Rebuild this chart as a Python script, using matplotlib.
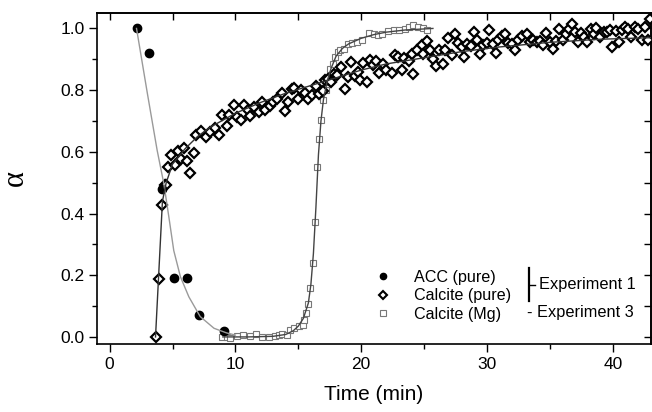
import numpy as np
import matplotlib
matplotlib.use('agg')
import matplotlib.pyplot as plt
from matplotlib.lines import Line2D
from matplotlib.ticker import MultipleLocator

plt.rcParams['font.family'] = ['Liberation Sans', 'DejaVu Sans']

# ACC (pure), experiment 1
acc_t = [2.14, 3.17, 4.2, 5.15, 6.17, 7.14, 9.1]
acc_a = [1.0, 0.92, 0.48, 0.19, 0.19, 0.07, 0.02]
acc_fit_t = [2.14, 3.0, 3.78, 4.31, 4.71, 5.1, 5.63, 6.3, 7.2, 8.3, 9.3, 10.0]
acc_fit_a = [1.0, 0.79, 0.605, 0.497, 0.389, 0.28, 0.195, 0.13, 0.066, 0.028, 0.013, 0.006]

# Calcite (pure), experiment 1
cal_t = [3.70, 3.92, 4.18, 4.44, 4.5, 4.66, 4.92, 5.16, 5.42, 5.69, 5.90, 6.19, 6.43, 6.69,
         6.90, 7.30, 7.70, 8.02, 8.41, 8.68, 8.94, 9.34, 9.47, 9.92, 10.13, 10.48, 10.66,
         10.98, 11.19, 11.45, 11.85, 12.12, 12.38, 12.78, 12.99, 13.31, 13.70, 13.97, 14.18,
         14.50, 14.68, 14.95, 15.21, 15.56, 15.74, 16.09, 16.43, 16.61, 16.96, 17.14, 17.33,
         17.60, 17.80, 18.07, 18.39, 18.73, 18.92, 19.21, 19.52, 19.74, 19.92, 20.13, 20.45,
         20.66, 20.93, 21.19, 21.45, 21.77, 21.98, 22.43, 22.70, 22.96, 23.23, 23.44, 23.76,
         24.02, 24.15, 24.47, 24.81, 24.94, 25.21, 25.48, 25.69, 25.95, 26.22, 26.48, 26.67,
         26.93, 27.20, 27.46, 27.72, 27.99, 28.20, 28.44, 28.70, 28.99, 29.18, 29.44, 29.71,
         29.98, 30.18, 30.45, 30.71, 30.90, 31.17, 31.43, 31.69, 31.96, 32.22, 32.48, 32.75,
         33.15, 33.41, 33.68, 33.94, 34.21, 34.47, 34.68, 35.0, 35.21, 35.48, 35.74, 36.0,
         36.27, 36.53, 36.72, 36.98, 37.25, 37.51, 37.70, 37.96, 38.23, 38.49, 38.70, 38.97,
         39.29, 39.55, 39.76, 39.97, 40.24, 40.50, 40.69, 40.95, 41.21, 41.48, 41.75, 42.01,
         42.28, 42.54, 42.80, 42.94]
cal_a = [0.0, 0.187, 0.427, 0.494, 0.494, 0.551, 0.591, 0.557, 0.603, 0.578, 0.611, 0.571, 0.533, 0.597,
         0.656, 0.667, 0.648, 0.664, 0.677, 0.654, 0.718, 0.683, 0.718, 0.751, 0.713, 0.704, 0.753,
         0.735, 0.715, 0.745, 0.729, 0.761, 0.735, 0.748, 0.761, 0.772, 0.791, 0.731, 0.761,
         0.805, 0.808, 0.772, 0.801, 0.791, 0.772, 0.785, 0.812, 0.786, 0.797, 0.832, 0.837,
         0.826, 0.853, 0.848, 0.875, 0.805, 0.842, 0.891, 0.845, 0.859, 0.834, 0.888, 0.826,
         0.899, 0.880, 0.893, 0.855, 0.886, 0.864, 0.855, 0.913, 0.909, 0.866, 0.905, 0.896,
         0.918, 0.851, 0.929, 0.945, 0.916, 0.959, 0.929, 0.902, 0.877, 0.931, 0.886, 0.929,
         0.970, 0.913, 0.983, 0.952, 0.940, 0.907, 0.950, 0.942, 0.989, 0.963, 0.916, 0.945,
         0.952, 0.994, 0.950, 0.920, 0.963, 0.974, 0.983, 0.952, 0.950, 0.931, 0.961, 0.974,
         0.981, 0.956, 0.961, 0.956, 0.959, 0.945, 0.985, 0.956, 0.934, 0.959, 0.998, 0.963,
         0.983, 0.998, 1.013, 0.989, 0.956, 0.985, 0.972, 0.956, 0.998, 0.981, 1.002, 0.972,
         0.989, 0.989, 0.996, 0.940, 0.992, 0.956, 0.994, 1.006, 0.998, 0.972, 1.006, 0.998,
         0.961, 1.006, 0.963, 1.031]
cal_fit_t = [3.65, 3.9, 4.2, 4.5, 5.0, 6.0, 7.0, 8.0, 10.0, 12.0, 14.0, 16.0, 18.0, 20.0,
             22.0, 25.0, 28.0, 31.0, 35.0, 39.0, 43.0]
cal_fit_a = [0.0, 0.2, 0.44, 0.50, 0.56, 0.61, 0.65, 0.68, 0.725, 0.76, 0.79, 0.815, 0.84,
             0.865, 0.885, 0.905, 0.925, 0.94, 0.955, 0.965, 0.97]

# Calcite (Mg), experiment 3
mg_t = [8.94, 9.34, 9.6, 10.13, 10.61, 11.14, 11.64, 12.12, 12.65, 13.17, 13.44, 13.7, 14.1,
        14.37, 14.68, 15.03, 15.34, 15.42, 15.64, 15.77, 15.95, 16.14, 16.3, 16.48, 16.61,
        16.8, 16.96, 17.2, 17.33, 17.49, 17.54, 17.75, 17.94, 18.12, 18.33, 18.65, 18.92,
        19.26, 19.66, 20.06, 20.58, 20.98, 21.3, 21.64, 22.09, 22.57, 23.04, 23.49, 23.83,
        24.15, 24.55, 24.9, 25.21]
mg_a = [0.001, 0.0, -0.003, 0.004, 0.006, 0.004, 0.01, 0.0, 0.0, 0.004, 0.006, 0.009, 0.006,
        0.023, 0.030, 0.037, 0.039, 0.055, 0.077, 0.106, 0.16, 0.24, 0.373, 0.551, 0.643,
        0.702, 0.767, 0.80, 0.826, 0.842, 0.87, 0.886, 0.907, 0.923, 0.929, 0.934, 0.95,
        0.952, 0.956, 0.963, 0.985, 0.983, 0.979, 0.983, 0.992, 0.994, 0.996, 0.999, 1.004,
        1.01, 1.004, 1.002, 0.996]
mg_fit_t = [9.0, 11.0, 13.0, 14.0, 14.6, 15.0, 15.4, 15.8, 16.0, 16.2, 16.4, 16.6, 16.8, 17.0,
            17.3, 17.6, 18.0, 18.5, 19.0, 20.0, 21.0, 22.0, 23.5, 25.7]
mg_fit_a = [0.0, 0.0, 0.002, 0.008, 0.02, 0.035, 0.06, 0.11, 0.17, 0.27, 0.42, 0.59, 0.70, 0.77,
            0.83, 0.87, 0.91, 0.935, 0.95, 0.968, 0.98, 0.988, 0.995, 1.0]

fig = plt.figure(figsize=(6.52, 4.12), dpi=100)
ax = fig.add_axes([0.1488, 0.165, 0.8490, 0.8034])

ax.plot(mg_t, mg_a, 's', ms=4.6, mfc='white', mec='#777777', mew=0.8, zorder=2)
ax.plot(cal_t, cal_a, 'D', ms=4.6, mfc='white', mec='black', mew=1.6, zorder=3)
ax.plot(acc_t, acc_a, 'o', ms=6, mfc='black', mec='black', zorder=4)

ax.plot(acc_fit_t, acc_fit_a, '-', color='#9a9a9a', lw=1.0, zorder=5)
ax.plot(cal_fit_t, cal_fit_a, '-', color='#333333', lw=1.0, zorder=5)
ax.plot(mg_fit_t, mg_fit_a, '-', color='#444444', lw=1.0, zorder=5)

ax.set_xlim(-1, 43)
ax.set_ylim(-0.023, 1.05)
ax.xaxis.set_major_locator(MultipleLocator(10))
ax.xaxis.set_minor_locator(MultipleLocator(5))
ax.yaxis.set_major_locator(MultipleLocator(0.2))
ax.yaxis.set_minor_locator(MultipleLocator(0.1))
ax.yaxis.set_major_formatter(matplotlib.ticker.FormatStrFormatter('%.1f'))
ax.tick_params(which='both', direction='out', labelsize=12.5, width=1.0)
ax.tick_params(which='major', length=6, pad=3)
ax.tick_params(which='minor', length=3.5)
for s in ax.spines.values():
    s.set_linewidth(1.2)

# mirrored inward ticks on top and right
secx = ax.secondary_xaxis('top')
secx.xaxis.set_major_locator(MultipleLocator(10))
secx.xaxis.set_minor_locator(MultipleLocator(5))
secx.tick_params(which='both', direction='in', labeltop=False, length=5, width=1.0)
secy = ax.secondary_yaxis('right')
secy.yaxis.set_major_locator(MultipleLocator(0.2))
secy.yaxis.set_minor_locator(MultipleLocator(0.1))
secy.tick_params(which='both', direction='in', labelright=False, length=5, width=1.0)
secx.spines['top'].set_linewidth(1.2)
secy.spines['right'].set_linewidth(1.2)

ax.set_xlabel('Time (min)', fontsize=15, labelpad=10)
ax.set_ylabel('α', fontsize=22, family=['Liberation Serif', 'DejaVu Serif'], labelpad=22)

handles = [
    Line2D([], [], ls='', marker='o', ms=4.5, mfc='black', mec='black'),
    Line2D([], [], ls='', marker='D', ms=3.8, mfc='white', mec='black', mew=1.5),
    Line2D([], [], ls='', marker='s', ms=4, mfc='white', mec='#777777', mew=0.8),
]
ax.legend(handles, ['ACC (pure)', 'Calcite (pure)', 'Calcite (Mg)'],
          loc='upper left', bbox_to_anchor=(367 / 652, 1 - 262 / 412),
          bbox_transform=fig.transFigure, frameon=False, fontsize=11.6,
          handlelength=1.0, handletextpad=1.4, labelspacing=0.2, borderpad=0)

# bracket labelling experiments
fig.add_artist(Line2D([529 / 652, 529 / 652], [1 - 268 / 412, 1 - 301 / 412],
                      color='black', lw=1.6, transform=fig.transFigure))
fig.add_artist(Line2D([529 / 652, 535 / 652], [1 - 285 / 412, 1 - 285 / 412],
                      color='black', lw=1.0, transform=fig.transFigure))
fig.text(539 / 652, 1 - 285 / 412, 'Experiment 1', fontsize=11.8, va='center', ha='left')
fig.text(527 / 652, 1 - 313 / 412, '- Experiment 3', fontsize=11.8, va='center', ha='left')

fig.savefig('out.png', dpi=100)
